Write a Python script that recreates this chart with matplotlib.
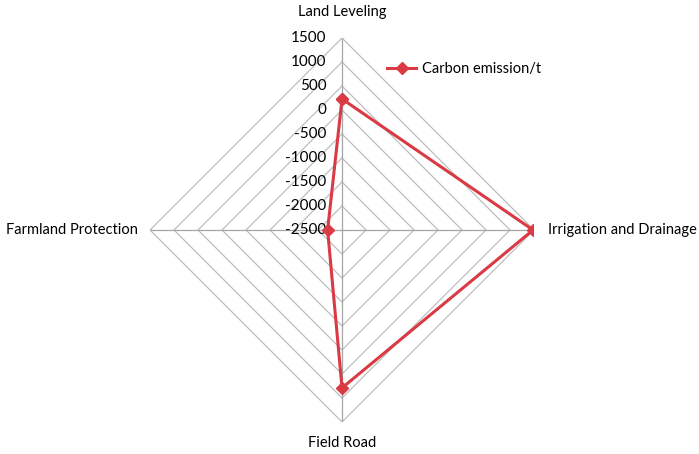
import numpy as np
import matplotlib.pyplot as plt

plt.rcParams.update({'font.size': 10.5, 'font.family': ['Lato', 'DejaVu Sans']})

categories = ['Land Leveling', 'Irrigation and Drainage', 'Field Road', 'Farmland Protection']
emission = [230, 1480, 790, -2200]
rticks = [-2500, -2000, -1500, -1000, -500, 0, 500, 1000, 1500]

theta = np.linspace(0, 2 * np.pi, len(categories), endpoint=False)
theta_c = np.append(theta, theta[0])

fig = plt.figure(figsize=(6.99, 4.54), dpi=100)
ax = fig.add_axes([0.2146, 0.0705, 0.5494, 0.8458], projection='polar')
ax.set_theta_zero_location('N')
ax.set_theta_direction(-1)
ax.set_ylim(-2500, 1500)
ax.grid(False)
ax.spines['polar'].set_visible(False)
ax.set_xticks([])
ax.set_yticks([])

# polygon grid rings and spokes
for r in rticks[1:]:
    ax.plot(theta_c, [r] * len(theta_c), color='#BEBEBE', lw=0.9, zorder=1)
for t in theta:
    ax.plot([t, t], [-2500, 1500], color='#A6A6A6', lw=0.9, zorder=1)

# radial tick labels along the top spoke
for r in rticks:
    ax.annotate(str(r), xy=(0, r), xytext=(-11, 0), textcoords='offset points',
                ha='right', va='center', fontsize=11)

line, = ax.plot(theta_c, emission + [emission[0]], color='#D93A44', lw=2.2,
                marker='D', markersize=6, label='Carbon emission/t', zorder=3)

# category labels
ax.annotate(categories[0], xy=(0, 1500), xytext=(0, 14), textcoords='offset points',
            ha='center', va='bottom', fontsize=10.5)
ax.annotate(categories[1], xy=(theta[1], 1500), xytext=(10, 0), textcoords='offset points',
            ha='left', va='center', fontsize=10.5)
ax.annotate(categories[2], xy=(theta[2], 1500), xytext=(0, -10), textcoords='offset points',
            ha='center', va='top', fontsize=10.5)
ax.annotate(categories[3], xy=(theta[3], 1500), xytext=(-9, 0), textcoords='offset points',
            ha='right', va='center', fontsize=10.5)

fig.legend(handles=[line], loc='center left', bbox_to_anchor=(0.535, 0.848),
           frameon=False, handlelength=2.0, handletextpad=0.4, fontsize=10.5)

plt.savefig('out.png', dpi=100)
